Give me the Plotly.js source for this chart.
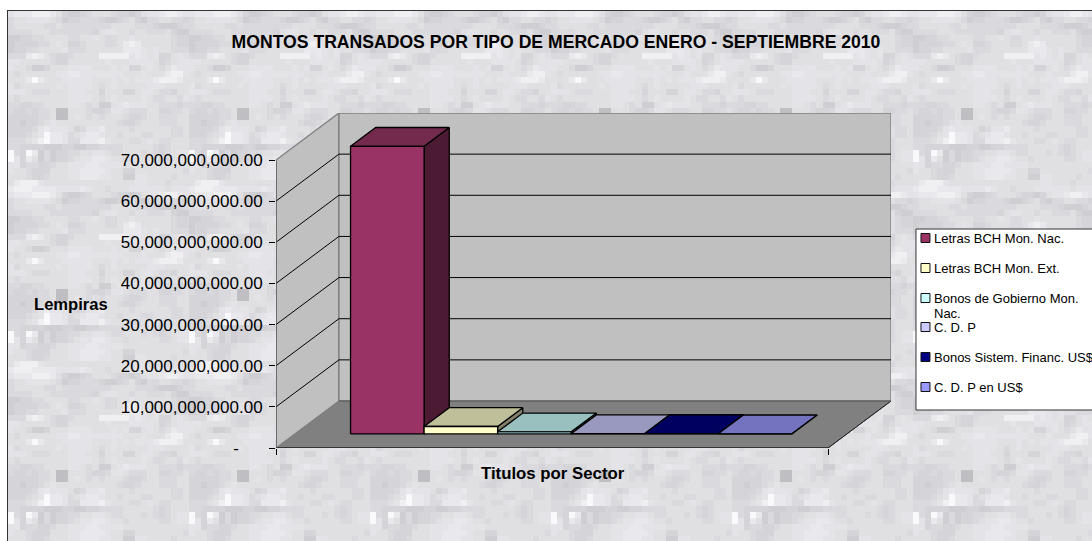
<!DOCTYPE html>
<html>
<head>
<meta charset="utf-8">
<script src="https://cdn.plot.ly/plotly-3.0.1.min.js"></script>
<style>
html,body{margin:0;padding:0;background:#fff;overflow:hidden}
#frame{position:absolute;left:7px;top:10px;width:1090px;height:540px;border:1px solid #333;box-sizing:border-box;image-rendering:pixelated}
#chart{position:absolute;left:0;top:0;width:1092px;height:541px}
</style>
</head>
<body>
<div id="frame"></div>
<div id="chart"></div>
<script>
// ---------- chart data ----------
const seriesNames = ["Letras BCH Mon. Nac.","Letras BCH Mon. Ext.","Bonos de Gobierno Mon.<br>Nac.","C. D. P","Bonos Sistem. Financ. US$","C. D. P en US$"];
const seriesValues = [69900000000,1800000000,500000000,50000000,80000000,20000000];
const frontColors = ["#993366","#ffffcc","#ccffff","#ccccff","#000080","#9999ff"];
const topColors   = ["#732a4d","#bfbf99","#99bfbf","#9999bf","#000060","#7373bf"];
const sideColors  = ["#4d1a33","#80806a","#668080","#666680","#000040","#4d4d80"];
const tickValues = [0,10e9,20e9,30e9,40e9,50e9,60e9,70e9];
const tickLabels = ["-\u00a0\u00a0\u00a0\u00a0\u00a0","10,000,000,000.00","20,000,000,000.00","30,000,000,000.00","40,000,000,000.00","50,000,000,000.00","60,000,000,000.00","70,000,000,000.00"];
const chartTitle = "MONTOS TRANSADOS POR TIPO DE MERCADO ENERO - SEPTIEMBRE 2010";
const yTitle = "Lempiras";
const xTitle = "Titulos por Sector";

// ---------- marble backdrop tile (one digit = one grey block) ----------
const textureRows = [
"677788875322345554332356678876",
"455666654233444322345324455443",
"455555445444444445555444322234",
"444455544444443566554554445322",
"223344555544556544556555555433",
"233334456533455544578755555433",
"233445555644455555577765655444",
"444787543345555888886765633565",
"665555543355555565556666534566",
"655422355566665556563356545766",
"545555556677666666655565557886",
"555797555666665556565666788875",
"645555556566665456555556665555",
"666544455566655355533566544355",
"545555555566665456555565445546",
"443344555566545225676665544434",
"433434450055543346654445533445",
"333334450056545455543345544455",
"332334565555555555433455544455",
"333346766653466755554555555445",
"333456977645677655455544555445",
"444568977644777865554456544555",
"443333222332233444455555434555",
"943972423344556654455545434566",
"963752423345667765545555544566",
"663443345566677666655555555555",
"655433355566777765533555555554",
"555433455566777665522665555455",
"578886555555555555555665554555",
"788877776666765545556666665666"
];
const textureGreys = ["#bfbfc3","#c8c8cc","#cfcfd3","#d5d5d9","#dadade","#e0e0e3","#e4e4e8","#e9e9ed","#f0f0f3","#f9f9fb"];
(function paintBackdrop(){
  const TILE = 181, cv = document.createElement("canvas");
  cv.width = TILE; cv.height = TILE;
  const g = cv.getContext("2d"), n = textureRows.length;
  textureRows.forEach((row,r)=>{
    for(let c=0;c<n;c++){
      const x0=Math.round(c*TILE/n),x1=Math.round((c+1)*TILE/n),y0=Math.round(r*TILE/n),y1=Math.round((r+1)*TILE/n);
      g.fillStyle = textureGreys[+(row.charAt(c)||5)];
      g.fillRect(x0,y0,x1-x0,y1-y0);
    }
  });
  document.getElementById("frame").style.backgroundImage = "url("+cv.toDataURL()+")";
})();

// ---------- oblique projection, expressed in axis units ----------
const PLOT_L=275.5, PLOT_R=891, PLOT_T=113, PLOT_B=448;
const FRONT_W=552.5, PX_PER_VAL=288/70e9;
const DEPTH_X=63/FRONT_W, DEPTH_Y=47/PX_PER_VAL;
const proj=(u,v,d)=>[u+d*DEPTH_X, v+d*DEPTH_Y];
const AX_TOP=70e9;
function poly(points,fill,line,width,close){
  const pts=points.map(p=>proj(p[0],p[1],p[2]));
  if(close!==false) pts.push(pts[0]);
  return {type:"scatter",mode:"lines",x:pts.map(p=>p[0]),y:pts.map(p=>p[1]),
    fill:fill?"toself":"none",fillcolor:fill||undefined,
    line:{color:line||"rgba(0,0,0,0)",width:width||1,simplify:false},
    hoverinfo:"skip",showlegend:false,cliponaxis:false};
}
const traces=[];
// walls and floor
traces.push(poly([[0,0,0],[0,0,1],[1,0,1],[1,0,0]],"#808080","#555",1));
traces.push(poly([[0,0,0],[0,0,1],[0,AX_TOP,1],[0,AX_TOP,0]],"#c0c0c0","#808080",1.4));
traces.push(poly([[0,0,1],[1,0,1],[1,AX_TOP,1],[0,AX_TOP,1]],"#c0c0c0","#808080",1.4));
// gridlines
tickValues.filter(v=>v>0&&v<AX_TOP).forEach(v=>{
  traces.push(poly([[0,v,0],[0,v,1],[1,v,1]],null,"#000",1,false));
});
// axis lines and floor edge
traces.push(poly([[0,0,0],[1,0,0]],null,"#000",1,false));
traces.push(poly([[1,0,0],[1,0,1]],null,"#222",1,false));
traces.push(poly([[0,0,0],[0,AX_TOP,0]],null,"#444",1,false));
traces.push(poly([[0,0,1],[1,0,1]],null,"#555",1,false));
// bars (one cluster of six series)
const BAR_W=73.6/FRONT_W, GAP=55.7/FRONT_W, D0=0.3, D1=0.7;
seriesValues.forEach((val,i)=>{
  const a=GAP+i*BAR_W,b=a+BAR_W,LW=1.3;
  traces.push(poly([[b,0,D0],[b,0,D1],[b,val,D1],[b,val,D0]],sideColors[i],"#000",LW));
  traces.push(poly([[a,val,D0],[b,val,D0],[b,val,D1],[a,val,D1]],topColors[i],"#000",LW));
  traces.push(poly([[a,0,D0],[b,0,D0],[b,val,D0],[a,val,D0]],frontColors[i],"#000",LW));
});

// ---------- pixel helpers for texts ----------
const px=x=>(x-PLOT_L)/(PLOT_R-PLOT_L), py=y=>(PLOT_B-y)/(PLOT_B-PLOT_T);
const FONT="Liberation Sans, Arial, sans-serif";
const annotations=[
 {text:"<b>"+yTitle+"</b>",xref:"paper",yref:"paper",x:px(70),y:py(304),xanchor:"center",yanchor:"middle",showarrow:false,font:{family:FONT,size:16.6,color:"#000"}},
 {text:"<b>"+xTitle+"</b>",xref:"paper",yref:"paper",x:px(552.5),y:py(474),xanchor:"center",yanchor:"middle",showarrow:false,font:{family:FONT,size:16.8,color:"#000"}}
];
const shapes=[
 {type:"rect",xref:"paper",yref:"paper",x0:px(916),x1:px(1100),y0:py(229),y1:py(410),fillcolor:"#fff",line:{color:"#333",width:1},layer:"below"}
];
const legendRowY=[238,268,298,327,357,387];
seriesNames.forEach((name,i)=>{
  const cy=legendRowY[i];
  shapes.push({type:"rect",xref:"paper",yref:"paper",x0:px(921),x1:px(930),y0:py(cy-4.5),y1:py(cy+4.5),fillcolor:frontColors[i],line:{color:"#111",width:1}});
  name.split("<br>").forEach((line,k)=>{
    annotations.push({text:line,xref:"paper",yref:"paper",x:px(932),y:py(cy+15*k),xanchor:"left",yanchor:"middle",align:"left",showarrow:false,font:{family:FONT,size:13,color:"#000"}});
  });
});

const layout={
  width:1092,height:541,
  margin:{l:PLOT_L,r:1092-PLOT_R,t:PLOT_T,b:541-PLOT_B,pad:0},
  paper_bgcolor:"rgba(0,0,0,0)",plot_bgcolor:"rgba(0,0,0,0)",
  showlegend:false,
  title:{text:"<b>"+chartTitle+"</b>",x:556/1092,xanchor:"center",xref:"container",y:1-42/541,yanchor:"middle",yref:"container",font:{family:FONT,size:17.6,color:"#000"}},
  xaxis:{range:[0,1+DEPTH_X],showgrid:false,zeroline:false,showline:false,tickmode:"array",tickvals:[0,1],ticktext:["",""],ticks:"outside",ticklen:6,tickwidth:1,tickcolor:"#000",fixedrange:true},
  yaxis:{range:[0,AX_TOP+DEPTH_Y],showgrid:false,zeroline:false,showline:false,tickmode:"array",tickvals:tickValues,ticktext:tickLabels,ticks:"outside",ticklen:6,tickwidth:1,tickcolor:"#000",ticklabelstandoff:3,tickfont:{family:FONT,size:17,color:"#000"},fixedrange:true},
  shapes,annotations
};
Plotly.newPlot("chart",traces,layout,{displayModeBar:false,staticPlot:true});
</script>
</body>
</html>
